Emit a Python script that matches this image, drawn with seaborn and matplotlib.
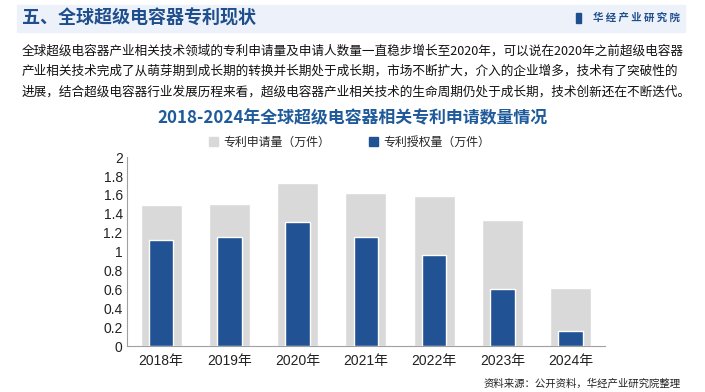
import matplotlib
matplotlib.use("Agg")
import matplotlib.pyplot as plt
import matplotlib.patches as mpatches
from matplotlib.ticker import FuncFormatter, FixedLocator
import pandas as pd
import seaborn as sns

years = ["2018年", "2019年", "2020年", "2021年", "2022年", "2023年", "2024年"]
applications = [1.49, 1.50, 1.73, 1.62, 1.59, 1.34, 0.62]
grants = [1.12, 1.15, 1.31, 1.16, 0.96, 0.61, 0.16]

GRAY = "#D9D9D9"
BLUE = "#215293"
TITLE_BLUE = "#1F5A9B"

sns.set_theme(style="white")
plt.rcParams["font.family"] = ["Noto Sans CJK SC", "DejaVu Sans"]
TICK_FONT = ["Liberation Sans", "Noto Sans CJK SC"]

df = pd.DataFrame({"year": years, "app": applications, "grant": grants})

fig = plt.figure(figsize=(7.05, 3.92), dpi=100)
ax = fig.add_axes([0.180, 0.117, 0.678, 0.482])

sns.barplot(data=df, x="year", y="app", color=GRAY, width=0.6, ax=ax,
            saturation=1, zorder=2)
sns.barplot(data=df, x="year", y="grant", color=BLUE, width=0.36, ax=ax,
            saturation=1, zorder=3)

ax.set_xlim(-0.5, len(years) - 0.5)
ax.set_ylim(0, 2)
ax.set_yticks([i / 5 for i in range(11)])
ax.yaxis.set_major_formatter(FuncFormatter(lambda v, p: f"{v:g}"))
ax.set_xlabel("")
ax.set_ylabel("")
ax.tick_params(axis="y", length=0, labelsize=10, colors="#222222", pad=3)
ax.tick_params(axis="x", which="major", length=0, labelsize=10, colors="#222222", pad=6)
for lab in ax.get_xticklabels() + ax.get_yticklabels():
    lab.set_family(TICK_FONT)
ax.xaxis.set_minor_locator(FixedLocator([i + 0.5 for i in range(-1, len(years))]))
ax.tick_params(axis="x", which="minor", length=4, color="#A0A0A0", direction="out")
for s in ["top", "right"]:
    ax.spines[s].set_visible(False)
for s in ["left", "bottom"]:
    ax.spines[s].set_color("#A0A0A0")
    ax.spines[s].set_linewidth(0.8)

handles = [mpatches.Patch(color=GRAY, label="专利申请量（万件）"),
           mpatches.Patch(color=BLUE, label="专利授权量（万件）")]
ax.legend(handles=handles, loc="lower center", bbox_to_anchor=(0.466, 1.0), ncol=2,
          frameon=False, fontsize=8.6, handlelength=0.75, handleheight=0.75,
          columnspacing=3.2, handletextpad=0.5, borderaxespad=0.3)

# header band
fig.patches.append(mpatches.Rectangle((17 / 705, 1 - 32 / 392), 668 / 705, 27 / 392,
                                      transform=fig.transFigure, color="#EDF2FA", zorder=0))
fig.text(22 / 705, 1 - 18 / 392, "五、全球超级电容器专利现状", fontsize=13, fontweight="bold",
         color="#1F4E8C", va="center", ha="left")
fig.text(680 / 705, 1 - 18 / 392, "华 经 产 业 研 究 院", fontsize=7.5, fontweight="bold",
         color="#1F4E8C", va="center", ha="right")
fig.patches.append(mpatches.Rectangle((576 / 705, 1 - 23 / 392), 5 / 705, 10 / 392,
                                      transform=fig.transFigure, color="#1F4E8C", zorder=1))

para = ["全球超级电容器产业相关技术领域的专利申请量及申请人数量一直稳步增长至2020年，可以说在2020年之前超级电容器",
        "产业相关技术完成了从萌芽期到成长期的转换并长期处于成长期，市场不断扩大，介入的企业增多，技术有了突破性的",
        "进展，结合超级电容器行业发展历程来看，超级电容器产业相关技术的生命周期仍处于成长期，技术创新还在不断迭代。"]
for i, line in enumerate(para):
    fig.text(22 / 705, 1 - (51 + i * 20.5) / 392, line, fontsize=9.1, color="#111111",
             va="center", ha="left")

fig.text(352 / 705, 1 - 118 / 392, "2018-2024年全球超级电容器相关专利申请数量情况",
         fontsize=12.2, fontweight="bold", color=TITLE_BLUE, va="center", ha="center")

fig.text(681 / 705, 1 - 384 / 392, "资料来源：公开资料，华经产业研究院整理", fontsize=7.5,
         color="#222222", va="center", ha="right")

fig.savefig("out.png", dpi=100)
